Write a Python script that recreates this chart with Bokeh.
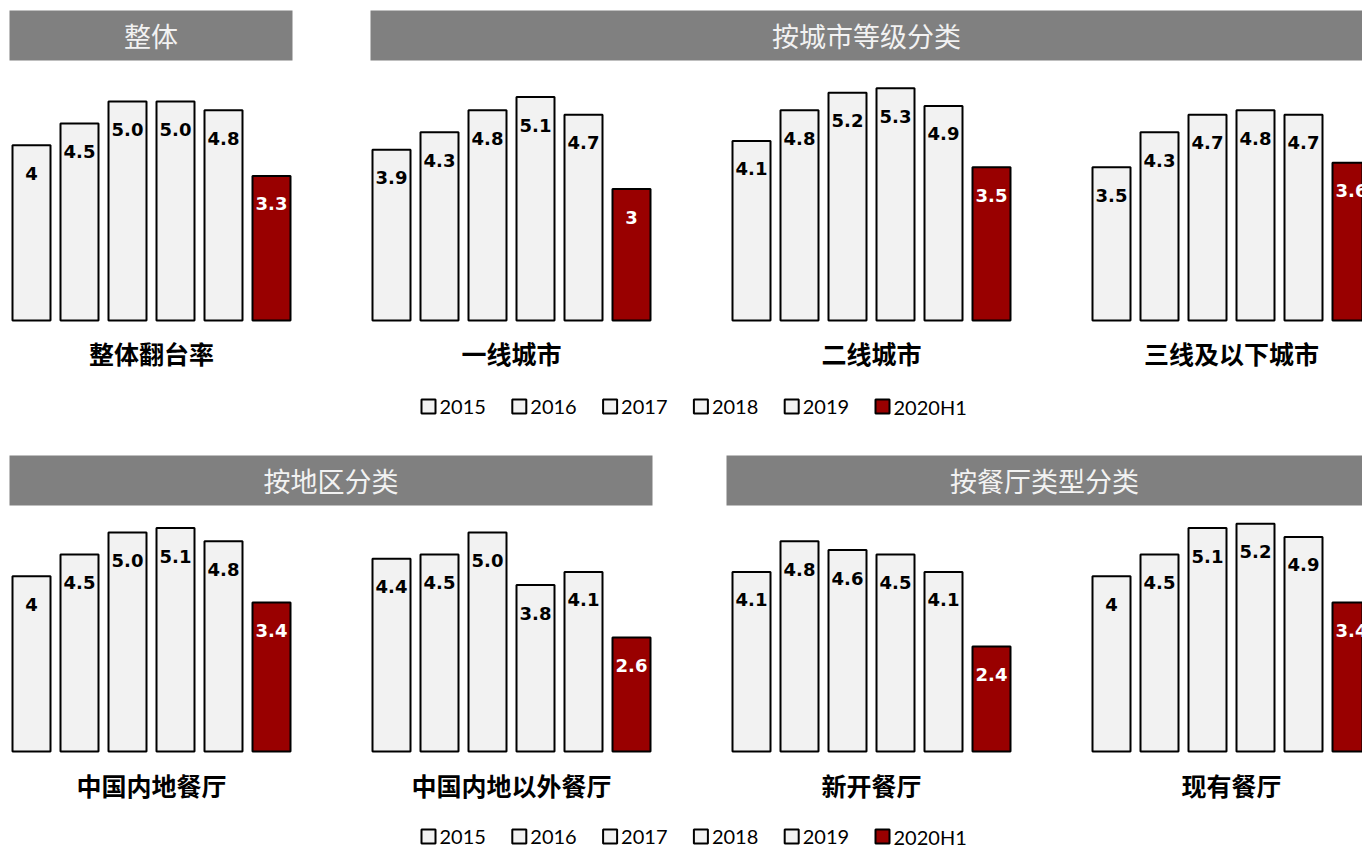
from bokeh.plotting import figure
from bokeh.models import Range1d, ColumnDataSource
from bokeh.core.properties import value
from bokeh.embed import file_html
from bokeh.resources import INLINE

# ---------------- data ----------------
years = ["2015", "2016", "2017", "2018", "2019", "2020H1"]

panel_names = ["整体翻台率", "一线城市", "二线城市", "三线及以下城市",
               "中国内地餐厅", "中国内地以外餐厅", "新开餐厅", "现有餐厅"]

lbl_overall = ["4", "4.5", "5.0", "5.0", "4.8", "3.3"]
lbl_tier1 = ["3.9", "4.3", "4.8", "5.1", "4.7", "3"]
lbl_tier2 = ["4.1", "4.8", "5.2", "5.3", "4.9", "3.5"]
lbl_tier3 = ["3.5", "4.3", "4.7", "4.8", "4.7", "3.6"]
lbl_mainland = ["4", "4.5", "5.0", "5.1", "4.8", "3.4"]
lbl_outside = ["4.4", "4.5", "5.0", "3.8", "4.1", "2.6"]
lbl_new = ["4.1", "4.8", "4.6", "4.5", "4.1", "2.4"]
lbl_existing = ["4", "4.5", "5.1", "5.2", "4.9", "3.4"]

header_texts = ["整体", "按城市等级分类", "按地区分类", "按餐厅类型分类"]

panel_labels = [lbl_overall, lbl_tier1, lbl_tier2, lbl_tier3,
                lbl_mainland, lbl_outside, lbl_new, lbl_existing]

# ---------------- layout ----------------
W, H = 1362, 846
PX = 43.8  # pixels per unit of turnover rate


def yv(p):
    return (H - p) / PX


WHITE_FILL = "#f2f2f2"
RED_FILL = "#990000"
HEADER_FILL = "#808080"
CJK = value("Noto Sans CJK SC")
LAT = value("Lato")
VAL = value("DejaVu Sans")

p = figure(width=W, height=H, x_range=Range1d(0, W), y_range=Range1d(0, H / PX),
           output_backend="svg", toolbar_location=None, min_border=0)
p.axis.visible = False
p.grid.visible = False
p.outline_line_color = None
p.background_fill_color = "white"
p.border_fill_color = "white"

panel_off = [0, 360, 720, 1080, 0, 360, 720, 1080]
row_base_px = [320, 320, 320, 320, 751, 751, 751, 751]
row_label_px = [352, 352, 352, 352, 784, 784, 784, 784]

bx, bbot, btop, bfill, tx, ty, tt, tc = [], [], [], [], [], [], [], []
for k, labs in enumerate(panel_labels):
    base = yv(row_base_px[k])
    for i, s in enumerate(labs):
        v = float(s)
        cx = panel_off[k] + 31 + 48 * i
        last = (i == len(years) - 1)
        bx.append(cx)
        bbot.append(base)
        btop.append(base + v)
        bfill.append(RED_FILL if last else WHITE_FILL)
        tx.append(cx)
        ty.append(base + v - 28 / PX)
        tt.append(s)
        tc.append("white" if last else "black")

p.vbar(x="x", width=38, bottom="b", top="t", fill_color="f", line_color="black",
       line_width=2, source=ColumnDataSource(dict(x=bx, b=bbot, t=btop, f=bfill)))
p.text(x="x", y="y", text="t", text_color="c", text_font=VAL, text_font_style="bold",
       text_font_size="18px", text_align="center", text_baseline="middle",
       source=ColumnDataSource(dict(x=tx, y=ty, t=tt, c=tc)))

# category labels under each panel
p.text(x=[panel_off[k] + 151 for k in range(8)], y=[yv(row_label_px[k]) for k in range(8)],
       text=panel_names, text_font=CJK, text_font_style="bold", text_font_size="25px",
       text_color="black", text_align="center", text_baseline="middle")

# section headers
hdr_left = [9, 370, 9, 726]
hdr_right = [292, 1362, 652, 1362]
hdr_top = [10, 10, 455, 455]
hdr_bot = [60, 60, 505, 505]
p.quad(left=hdr_left, right=hdr_right, top=[yv(t) for t in hdr_top],
       bottom=[yv(b) for b in hdr_bot], fill_color=HEADER_FILL, line_color=None)
p.text(x=[(l + r) / 2 for l, r in zip(hdr_left, hdr_right)],
       y=[yv((t + b) / 2) for t, b in zip(hdr_top, hdr_bot)],
       text=header_texts, text_font=CJK, text_font_size="27px", text_color="#f2f2f2",
       text_align="center", text_baseline="middle")

# legends
leg_x = [428 + 90.8 * i for i in range(len(years))]
for ly in (406, 836):
    p.scatter(x=leg_x, y=[yv(ly)] * len(years), marker="square", size=14,
              fill_color=[WHITE_FILL] * 5 + [RED_FILL], line_color="black", line_width=2)
    p.text(x=[x + 11 for x in leg_x], y=[yv(ly)] * len(years), text=years,
           text_font=LAT, text_font_size="20px", text_color="black",
           text_align="left", text_baseline="middle")

open("out.html", "w").write(file_html(p, INLINE))
